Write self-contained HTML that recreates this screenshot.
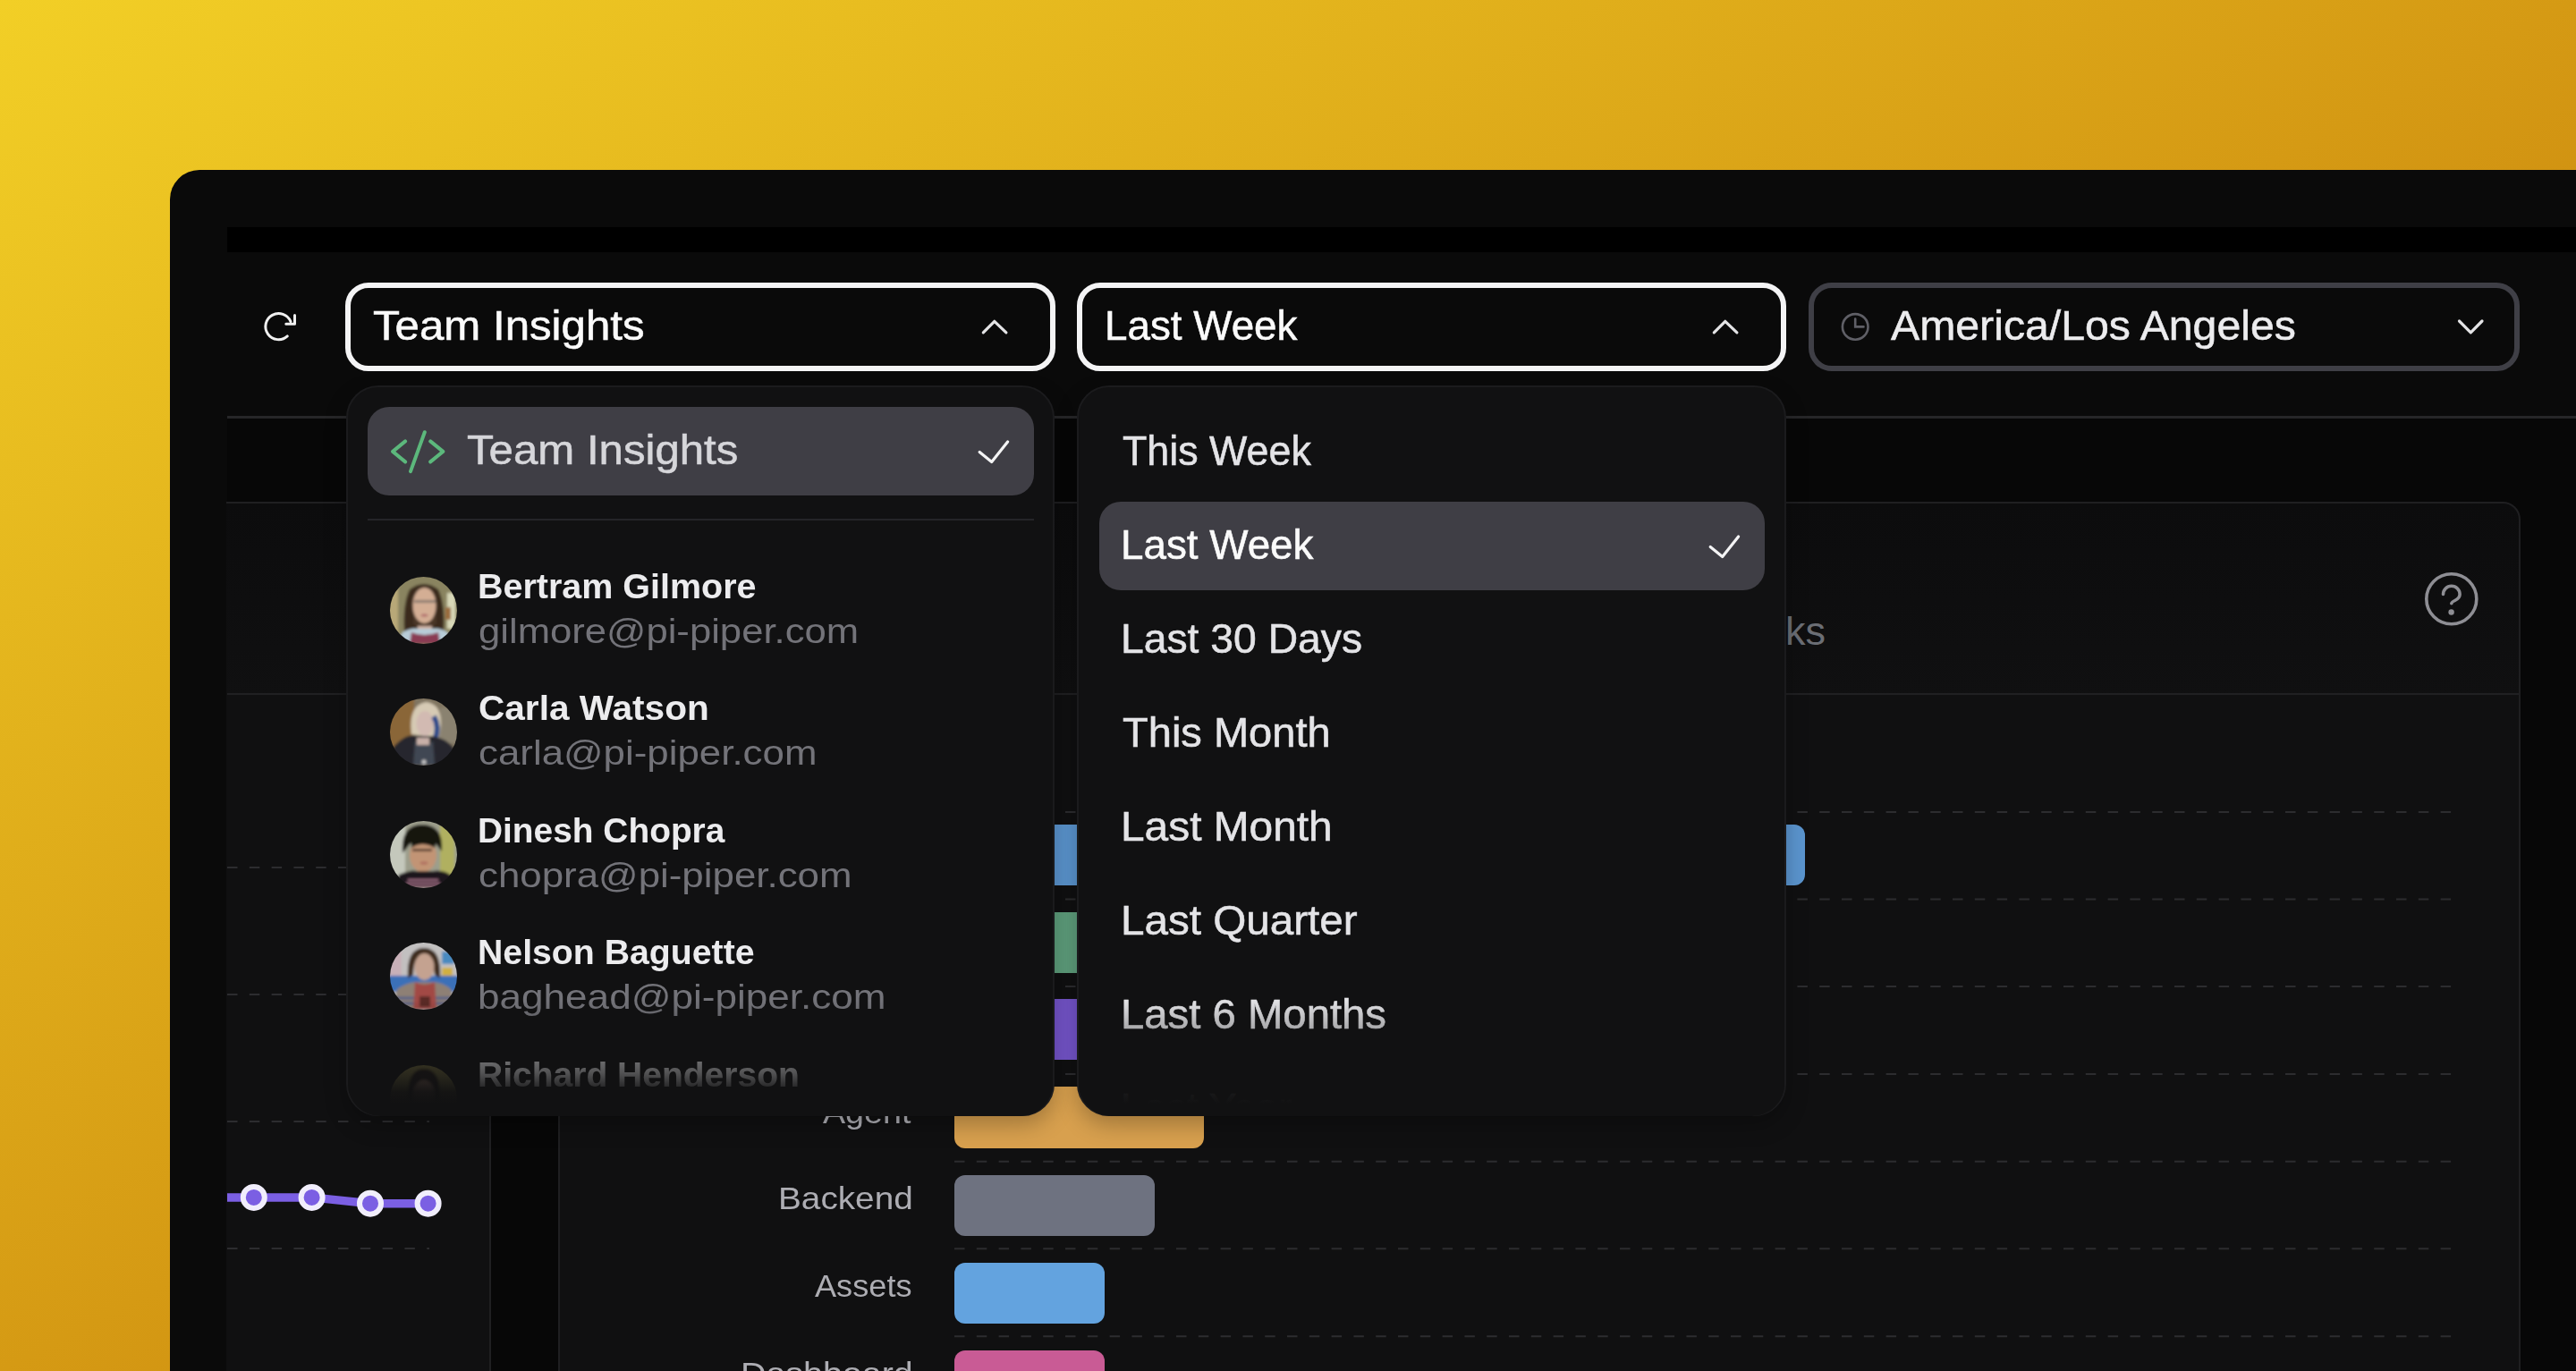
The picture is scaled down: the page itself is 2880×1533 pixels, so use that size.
<!DOCTYPE html>
<html><head><meta charset="utf-8">
<style>
*{box-sizing:border-box;margin:0;padding:0}
html,body{width:2880px;height:1533px;overflow:hidden}
body{position:relative;background:linear-gradient(to bottom right,#f2cf26,#b86502);font-family:"Liberation Sans",sans-serif}
.a{position:absolute}
.t{position:absolute;white-space:nowrap;line-height:1;transform-origin:0 0}
svg{position:absolute;overflow:visible}
#win{left:190px;top:190px;width:2800px;height:1500px;background:#0a0a0a;border-top-left-radius:33px}
.btn{position:absolute;top:316px;height:99px;border:6px solid #f4f4f5;border-radius:26px;background:#0a0a0a}
.pnl{position:absolute;top:431px;height:817px;background:#111112;border:2px solid #1b1b1d;border-radius:36px;box-shadow:0 10px 24px rgba(0,0,0,.25)}
.sel{position:absolute;height:99px;background:#3f3e45;border-radius:24px}
.av{position:absolute;width:75px;height:75px;border-radius:50%;overflow:hidden}
.av svg{position:static}
.bar{position:absolute;left:1067px;height:68px;border-radius:12px}
.fade{position:absolute;top:1100px;height:148px;border-radius:0 0 36px 36px;background:linear-gradient(to bottom,rgba(17,17,18,0) 0px,rgba(17,17,18,0) 18px,rgba(17,17,18,.7) 100px,rgba(17,17,18,.96) 121px,#111112 134px)}
</style></head>
<body>
<div id="win" class="a"></div>
<!-- black bar -->
<div class="a" style="left:254px;top:254px;width:2626px;height:28px;background:#000"></div>
<!-- content bg below header -->
<div class="a" style="left:254px;top:468px;width:2626px;height:1065px;background:#070707"></div>
<!-- header line -->
<div class="a" style="left:254px;top:465px;width:2626px;height:3px;background:#262628"></div>

<!-- left card -->
<div class="a" style="left:253px;top:561px;width:296px;height:1100px;background:linear-gradient(to bottom,#0c0c0d 0px,#101011 215px,#101011 100%);border:2px solid #1f1f21;border-left:none;border-radius:0 20px 0 0"></div>
<div class="a" style="left:254px;top:775px;width:293px;height:2px;background:#202022"></div>

<!-- right card -->
<div class="a" style="left:624px;top:561px;width:2194px;height:1100px;background:linear-gradient(to bottom,#0c0c0d 0px,#101011 215px,#101011 100%);border:2px solid #1f1f21;border-radius:20px"></div>
<div class="a" style="left:626px;top:775px;width:2190px;height:2px;background:#202022"></div>

<!-- CHARTS -->
<svg style="left:0;top:0" width="2880" height="1533" viewBox="0 0 2880 1533">
  <g stroke="#2c2c2f" stroke-width="2" stroke-dasharray="11.5 13.3" fill="none">
    <path d="M254 970H480M254 1112H480M254 1254H480M254 1396H480"/>
    <path d="M1067 908H2742M1067 1005.5H2742M1067 1103H2742M1067 1201H2742M1067 1298.7H2742M1067 1396.3H2742M1067 1494.3H2742"/>
  </g>
  <polyline points="254,1338.9 283.8,1338.9 348.6,1338.9 414,1345.7 478.6,1345.7" fill="none" stroke="#7b5fe3" stroke-width="9.5"/>
  <g fill="#7b5fe3" stroke="#f1eefc" stroke-width="6">
    <circle cx="283.8" cy="1338.9" r="12"/>
    <circle cx="348.6" cy="1338.9" r="12"/>
    <circle cx="414" cy="1345.7" r="12"/>
    <circle cx="478.6" cy="1345.7" r="12"/>
  </g>
  <!-- help icon -->
  <g fill="none" stroke="#8e8e94" stroke-width="3.6" stroke-linecap="round">
    <circle cx="2740.8" cy="669.7" r="28"/>
    <path d="M2731.5 664.5a9.3 9.3 0 0 1 18.6 0c0 4-2.5 5.5-5.5 7c-2.5 1.2-3.8 2.3-3.8 3.3"/>
  </g>
  <circle cx="2740.6" cy="684.5" r="3.2" fill="#8e8e94"/>
</svg>
<div class="bar" style="top:922px;width:951px;background:#5b95cf"></div>
<div class="bar" style="top:1020px;width:700px;background:#5e9e7c"></div>
<div class="bar" style="top:1117px;width:600px;background:#7454c9"></div>
<div class="bar" style="top:1215px;width:279px;height:69px;background:#d8a04e"></div>
<div class="bar" style="top:1314px;width:224px;background:#6e7280"></div>
<div class="bar" style="top:1412px;width:168px;background:#63a3df"></div>
<div class="bar" style="top:1510px;width:168px;background:#c95b95"></div>

<div class="t" style="left:919.9px;top:1225.9px;font-size:35px;color:#adadb3;transform:scaleX(1.0759);">Agent</div>
<div class="t" style="left:869.5px;top:1322.1px;font-size:35px;color:#adadb3;transform:scaleX(1.1067);">Backend</div>
<div class="t" style="left:910.6px;top:1420.0px;font-size:35px;color:#adadb3;transform:scaleX(1.0332);">Assets</div>
<div class="t" style="left:827.5px;top:1517.9px;font-size:35px;color:#adadb3;transform:scaleX(1.1254);">Dashboard</div>
<div class="t" style="left:1996.0px;top:682.5px;font-size:45px;color:#6b6e75;">ks</div>

<!-- buttons -->
<div class="btn" style="left:386px;width:794px"></div>
<div class="btn" style="left:1204px;width:793px"></div>
<div class="btn" style="left:2022px;width:795px;border-color:#3f3f46"></div>

<div class="t" style="left:416.9px;top:340.7px;font-size:46px;-webkit-text-stroke:0.55px #fafafa;color:#fafafa;transform:scaleX(1.0696);">Team Insights</div>
<div class="t" style="left:1234.8px;top:340.7px;font-size:46px;-webkit-text-stroke:0.55px #fafafa;color:#fafafa;transform:scaleX(0.9954);">Last Week</div>
<div class="t" style="left:2114.0px;top:340.7px;font-size:46px;-webkit-text-stroke:0.55px #ececee;color:#ececee;transform:scaleX(1.0480);">America/Los Angeles</div>

<svg style="left:0;top:0" width="2880" height="1533" viewBox="0 0 2880 1533">
  <!-- refresh -->
  <g fill="none" stroke="#f0f0f0" stroke-width="3" stroke-linecap="round" stroke-linejoin="round">
    <path d="M321.3 375.9A14.6 14.6 0 1 1 325 359.6"/>
    <path d="M329.5 352.5V362.2H319.8"/>
  </g>
  <!-- chevrons -->
  <g fill="none" stroke="#e4e4e6" stroke-width="3.2" stroke-linecap="round" stroke-linejoin="round">
    <path d="M1099.3 371.8L1111.8 359.3L1124.9 371.8"/>
    <path d="M1916.3 371.8L1928.8 359.3L1941.9 371.8"/>
    <path d="M2749.5 359L2762.3 371.8L2775 359"/>
  </g>
  <!-- clock -->
  <g fill="none" stroke="#5f5f66" stroke-width="2.6" stroke-linecap="round">
    <circle cx="2074.2" cy="365.4" r="14.3"/>
    <path d="M2074.2 356.5V365.4H2083.5"/>
  </g>
</svg>

<!-- PANELS -->
<div class="pnl" style="left:387px;width:792px"></div>
<div class="pnl" style="left:1204px;width:793px"></div>
<div class="a" style="left:0;top:0;width:2880px;height:1236px;overflow:hidden">
<div class="sel" style="left:411px;top:455px;width:745px"></div>
<div class="a" style="left:411px;top:580px;width:745px;height:2px;background:#252528"></div>
<div class="sel" style="left:1228.5px;top:561px;width:744px"></div>

<svg width="0" height="0" style="position:absolute"><defs><filter id="bl" x="-10%" y="-10%" width="120%" height="120%"><feGaussianBlur stdDeviation="1.4"/></filter></defs></svg>
<div class="av" style="left:435.5px;top:644.5px"><svg width="75" height="75" viewBox="0 0 75 75"><g filter="url(#bl)">
<rect x="-5" y="-5" width="85" height="85" fill="#8a8460"/>
<rect x="-5" y="-5" width="14" height="85" fill="#b8a878"/>
<rect x="64" y="18" width="9" height="40" fill="#d8d8b8"/>
<rect x="62" y="34" width="6" height="14" fill="#9a6a3a"/>
<path d="M16 62Q14 30 22 14Q38 2 54 14Q62 30 60 62Z" fill="#3b2a1c"/>
<ellipse cx="38.5" cy="32" rx="13" ry="20" fill="#d4ae94"/>
<rect x="27" y="26" width="24" height="3" fill="#8a7a70"/>
<path d="M26 42Q38 62 52 42L52 52Q38 64 26 52Z" fill="#4a3628"/>
<ellipse cx="38.5" cy="43" rx="4" ry="1.6" fill="#b06a6a"/>
<rect x="31" y="55" width="16" height="10" fill="#cfb0a0"/>
<path d="M8 75L14 62Q24 57 30 58L48 58Q56 57 64 62L70 75Z" fill="#b8ccd8"/>
<path d="M22 75L24 62Q38 68 54 62L56 75Z" fill="#8a3a52"/>
</g></svg></div>

<div class="av" style="left:435.5px;top:781px"><svg width="75" height="75" viewBox="0 0 75 75"><g filter="url(#bl)">
<rect x="-5" y="-5" width="85" height="85" fill="#807460"/>
<rect x="-5" y="-5" width="32" height="85" fill="#8a6638"/>
<rect x="56" y="10" width="20" height="40" fill="#8a8270"/>
<path d="M24 40Q20 8 40 4Q58 6 57 30L55 44Z" fill="#d6cab4"/>
<ellipse cx="39" cy="28" rx="9.5" ry="14" fill="#d2bab2"/>
<path d="M49 20Q56 32 50 46" stroke="#2c4a8a" stroke-width="6" fill="none"/>
<path d="M-2 75L4 54Q18 38 30 42L48 42Q62 44 72 56L77 75Z" fill="#26282e"/>
<path d="M26 75L28 48Q38 54 48 48L50 75Z" fill="#404652"/>
<rect x="30" y="44" width="14" height="8" fill="#c8b0a8"/>
<circle cx="38" cy="71" r="2.5" fill="#c8c8c8"/>
</g></svg></div>

<div class="av" style="left:435.5px;top:917.5px"><svg width="75" height="75" viewBox="0 0 75 75"><g filter="url(#bl)">
<rect x="-5" y="-5" width="85" height="85" fill="#9c9e8c"/>
<rect x="-5" y="-5" width="22" height="85" fill="#c4c8bc"/>
<rect x="56" y="-5" width="16" height="70" fill="#b0b060"/>
<path d="M14 36Q12 4 36 4Q60 4 58 34L50 24Q34 18 22 26Z" fill="#18120e"/>
<ellipse cx="37" cy="38" rx="15" ry="19" fill="#c29474"/>
<path d="M24 24Q36 14 52 22L50 30Q36 22 24 30Z" fill="#18120e"/>
<rect x="25" y="31" width="22" height="3" fill="#5a4030"/>
<ellipse cx="38" cy="47" rx="4.5" ry="1.8" fill="#b07060"/>
<path d="M4 75L10 60Q24 54 30 56L48 56Q60 54 70 62L74 75Z" fill="#1a181a"/>
<path d="M20 66h34M18 70h38M22 74h30" stroke="#9a6a80" stroke-width="2"/>
</g></svg></div>

<div class="av" style="left:435.5px;top:1054px"><svg width="75" height="75" viewBox="0 0 75 75"><g filter="url(#bl)">
<rect x="-5" y="-5" width="85" height="85" fill="#c2c0c0"/>
<rect x="-5" y="10" width="18" height="30" fill="#c8b0b8"/>
<rect x="58" y="10" width="14" height="14" fill="#4a8ac0"/>
<rect x="58" y="28" width="12" height="12" fill="#d0b040"/>
<rect x="-5" y="37" width="85" height="18" fill="#3a70b8"/>
<path d="M20 40Q18 6 38 6Q58 6 56 40L50 36Q48 16 38 14Q26 16 26 36Z" fill="#3c2a1c"/>
<ellipse cx="38.5" cy="27" rx="11" ry="15" fill="#c4a290"/>
<path d="M2 75L8 52Q20 44 30 44L48 44Q58 44 68 52L74 75Z" fill="#8e8074"/>
<path d="M6 62h62M4 68h66" stroke="#4a5a8a" stroke-width="2.5"/>
<path d="M26 75L28 44Q38 50 50 44L52 75Z" fill="#a24a44"/>
<rect x="33" y="60" width="12" height="12" fill="#5a2a28"/>
</g></svg></div>

<div class="av" style="left:435.5px;top:1190.5px"><svg width="75" height="75" viewBox="0 0 75 75"><g filter="url(#bl)">
<rect x="-5" y="-5" width="85" height="85" fill="#6a6438"/>
<path d="M20 40Q18 4 38 4Q58 4 56 40Z" fill="#1e1812"/>
<ellipse cx="38" cy="34" rx="12" ry="17" fill="#8a6a5a"/>
<path d="M4 75L10 56Q38 48 66 56L72 75Z" fill="#2a2826"/>
</g></svg></div>

<div class="t" style="left:522.4px;top:480.3px;font-size:46px;-webkit-text-stroke:0.55px #d6d6da;color:#d6d6da;transform:scaleX(1.0689);">Team Insights</div>
<div class="t" style="left:533.9px;top:636.9px;font-size:38px;font-weight:bold;color:#ececee;transform:scaleX(1.0386);">Bertram Gilmore</div>
<div class="t" style="left:534.9px;top:685.7px;font-size:39px;color:#737379;transform:scaleX(1.1190);">gilmore@pi-piper.com</div>
<div class="t" style="left:534.9px;top:773.4px;font-size:38px;font-weight:bold;color:#ececee;transform:scaleX(1.0676);">Carla Watson</div>
<div class="t" style="left:534.9px;top:822.2px;font-size:39px;color:#737379;transform:scaleX(1.1244);">carla@pi-piper.com</div>
<div class="t" style="left:534.0px;top:909.9px;font-size:38px;font-weight:bold;color:#ececee;transform:scaleX(1.0226);">Dinesh Chopra</div>
<div class="t" style="left:534.9px;top:958.7px;font-size:39px;color:#737379;transform:scaleX(1.1246);">chopra@pi-piper.com</div>
<div class="t" style="left:533.9px;top:1046.4px;font-size:38px;font-weight:bold;color:#ececee;transform:scaleX(1.0324);">Nelson Baguette</div>
<div class="t" style="left:533.7px;top:1095.2px;font-size:39px;color:#737379;transform:scaleX(1.1306);">baghead@pi-piper.com</div>
<div class="t" style="left:533.9px;top:1182.9px;font-size:38px;font-weight:bold;color:#ececee;transform:scaleX(1.0266);">Richard Henderson</div>
<div class="t" style="left:534.0px;top:1231.7px;font-size:39px;color:#737379;">richard@pi-piper.com</div>
<div class="t" style="left:1254.8px;top:480.6px;font-size:46px;-webkit-text-stroke:0.55px #e4e4e7;color:#e4e4e7;transform:scaleX(0.9740);">This Week</div>
<div class="t" style="left:1252.8px;top:585.7px;font-size:46px;-webkit-text-stroke:0.55px #fafafa;color:#fafafa;transform:scaleX(0.9954);">Last Week</div>
<div class="t" style="left:1252.8px;top:690.8px;font-size:46px;-webkit-text-stroke:0.55px #e4e4e7;color:#e4e4e7;transform:scaleX(1.0061);">Last 30 Days</div>
<div class="t" style="left:1254.8px;top:795.9px;font-size:46px;-webkit-text-stroke:0.55px #e4e4e7;color:#e4e4e7;transform:scaleX(1.0226);">This Month</div>
<div class="t" style="left:1252.7px;top:901.0px;font-size:46px;-webkit-text-stroke:0.55px #e4e4e7;color:#e4e4e7;transform:scaleX(1.0401);">Last Month</div>
<div class="t" style="left:1252.7px;top:1006.1px;font-size:46px;-webkit-text-stroke:0.55px #e4e4e7;color:#e4e4e7;transform:scaleX(1.0347);">Last Quarter</div>
<div class="t" style="left:1252.7px;top:1111.2px;font-size:46px;-webkit-text-stroke:0.55px #e4e4e7;color:#e4e4e7;transform:scaleX(1.0279);">Last 6 Months</div>
<div class="t" style="left:1252.8px;top:1216.3px;font-size:46px;-webkit-text-stroke:0.55px #e4e4e7;color:#e4e4e7;">Last Year</div>

<svg style="left:0;top:0" width="2880" height="1533" viewBox="0 0 2880 1533">
  <g fill="none" stroke="#5cb87c" stroke-width="4" stroke-linecap="round" stroke-linejoin="round">
    <path d="M453.1 493.4L439.1 504.9L453.1 516.4"/>
    <path d="M474.8 483.2L459 527.1"/>
    <path d="M481.2 493.4L495.3 504.9L481.2 516.4"/>
  </g>
  <g fill="none" stroke="#f4f4f5" stroke-width="3.2" stroke-linecap="round" stroke-linejoin="round">
    <path d="M1095.2 505.5L1108.7 516.5L1126.6 493.9"/>
    <path d="M1912.2 611.5L1925.7 622.5L1943.6 599.9"/>
  </g>
</svg>
</div>
<!-- fades -->
<div class="fade" style="left:389px;width:788px"></div>
<div class="fade" style="left:1206px;width:789px"></div>

</body></html>
